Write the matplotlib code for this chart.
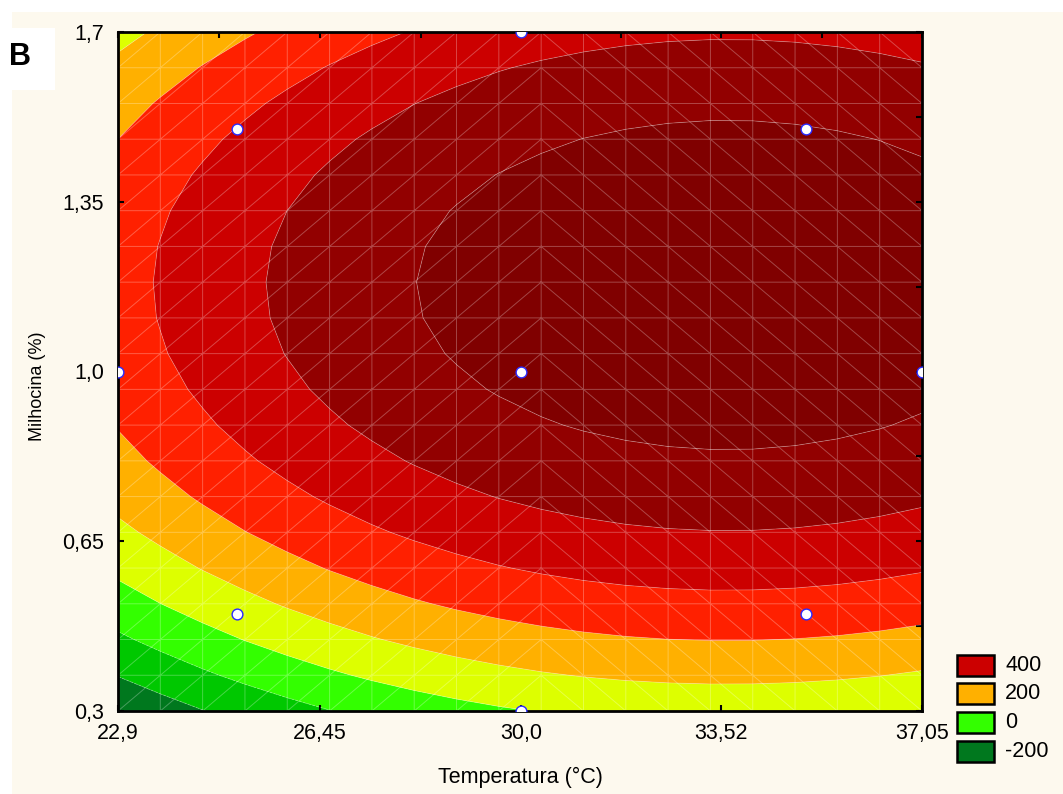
import numpy as np
import matplotlib
matplotlib.use("Agg")
import matplotlib.pyplot as plt
import matplotlib.tri as mtri
from matplotlib.patches import Rectangle

# ---------------- data ----------------
# quadratic response-surface coefficients (coded units)
# x1 = (T - 30) / 5 ,  x2 = (M - 1.0) / 0.5
b0 = 523.9
b1 = 100.4
b2 = 127.1
b11 = -69.2
b22 = -178.0
b12 = 0.0
temp_center, temp_step = 30.0, 5.0
milh_center, milh_step = 1.0, 0.5

# experimental design points
design_temp = [25.0, 35.0, 25.0, 35.0, 22.9, 37.05, 30.0, 30.0, 30.0]
design_milh = [0.5, 0.5, 1.5, 1.5, 1.0, 1.0, 0.3, 1.7, 1.0]

contour_levels = [-200, -100, 0, 100, 200, 300, 400, 500]
band_colors = ['#00781E', '#00C800', '#33FF00', '#DDFF00', '#FFB000',
               '#FF2000', '#CC0000', '#920000', '#800000']

legend_values = [400, 200, 0, -200]
legend_colors = ['#CC0000', '#FFB000', '#33FF00', '#00781E']

xticks = [22.9, 26.45, 30.0, 33.52, 37.05]
xticklabels = ['22,9', '26,45', '30,0', '33,52', '37,05']
yticks = [0.3, 0.65, 1.0, 1.35, 1.7]
yticklabels = ['0,3', '0,65', '1,0', '1,35', '1,7']

x_label = 'Temperatura (°C)'
y_label = 'Milhocina (%)'
panel_label = 'B'

# ---------------- figure ----------------
plt.rcParams['font.family'] = ['Liberation Sans', 'DejaVu Sans']
W, H = 1063, 794
fig = plt.figure(figsize=(W / 100, H / 100), dpi=100)
fig.patch.set_facecolor('white')
cream = '#FDF9EE'
fig.add_artist(Rectangle((12 / W, 0), 1 - 12 / W, 1 - 12 / H,
                         transform=fig.transFigure, facecolor=cream,
                         edgecolor='none', zorder=-10))
fig.add_artist(Rectangle((0, 1 - 90 / H), 55 / W, 62 / H,
                         transform=fig.transFigure, facecolor='white',
                         edgecolor='none', zorder=-9))
fig.text(20 / W, 1 - 57 / H, panel_label, fontsize=22, fontweight='bold',
         ha='center', va='center')

L, R, T, B = 118, 922, 32, 711
ax = fig.add_axes([L / W, 1 - B / H, (R - L) / W, (B - T) / H])

xmin, xmax = xticks[0], xticks[-1]
ymin, ymax = yticks[0], yticks[-1]

# mesh (as in the original software's triangulated grid)
n = 20
gx = np.linspace(xmin, xmax, n)
gy = np.linspace(ymin, ymax, n)
XX, YY = np.meshgrid(gx, gy)  # shape (n_y, n_x)


def surface(t, m):
    x1 = (t - temp_center) / temp_step
    x2 = (m - milh_center) / milh_step
    return (b0 + b1 * x1 + b2 * x2 + b11 * x1 ** 2 + b22 * x2 ** 2
            + b12 * x1 * x2)


ZZ = surface(XX, YY)


def idx(i, j):
    return j * n + i


tris = []
half = n // 2
for j in range(n - 1):
    for i in range(n - 1):
        a, b_, c, d = idx(i, j), idx(i + 1, j), idx(i + 1, j + 1), idx(i, j + 1)
        if i < half:
            tris += [[a, b_, c], [a, c, d]]
        else:
            tris += [[a, b_, d], [b_, c, d]]
tri = mtri.Triangulation(XX.ravel(), YY.ravel(), np.array(tris))
Z = ZZ.ravel()

levels = [-1e5] + contour_levels + [1e5]
ax.tricontourf(tri, Z, levels=levels, colors=band_colors, antialiased=True)
ax.tricontour(tri, Z, levels=contour_levels, colors='white',
              linewidths=0.6, alpha=0.3)
ax.triplot(tri, color='white', lw=0.7, alpha=0.28)

ax.scatter(design_temp, design_milh, s=60, facecolor='white',
           edgecolor='#2a2aff', linewidth=1.0, zorder=5)

ax.set_xlim(xmin, xmax)
ax.set_ylim(ymin, ymax)
ax.set_xticks(xticks)
ax.set_xticklabels(xticklabels)
ax.set_yticks(yticks)
ax.set_yticklabels(yticklabels)
ax.set_xticks([(a + b) / 2 for a, b in zip(xticks[:-1], xticks[1:])], minor=True)
ax.set_yticks([(a + b) / 2 for a, b in zip(yticks[:-1], yticks[1:])], minor=True)
ax.tick_params(which='major', direction='in', length=4, width=1.5,
               top=True, right=True, labelsize=15.5, pad=9, colors='black')
ax.tick_params(which='minor', direction='in', length=4, width=1.5,
               top=True, right=True, bottom=False, left=False)
ax.tick_params(axis='y', which='major', pad=10)
for s in ax.spines.values():
    s.set_linewidth(2)
    s.set_color('black')

fig.text((L + R) / 2 / W, 1 - 777 / H, x_label, fontsize=15.5,
         ha='center', va='center')
fig.text(37 / W, 1 - 386 / H, y_label, fontsize=13, rotation=90,
         ha='center', va='center')

# legend
box_x0, box_w, box_h = 957, 37, 21
row_tops = [655, 683, 712, 741]
for val, col, top in zip(legend_values, legend_colors, row_tops):
    fig.add_artist(Rectangle((box_x0 / W, 1 - (top + box_h) / H), box_w / W,
                             box_h / H, transform=fig.transFigure,
                             facecolor=col, edgecolor='black', linewidth=1.8))
    fig.text(1005 / W, 1 - (top + box_h / 2) / H, str(val), fontsize=15.5,
             ha='left', va='center')

fig.savefig('out.png', dpi=100, facecolor=fig.get_facecolor())
